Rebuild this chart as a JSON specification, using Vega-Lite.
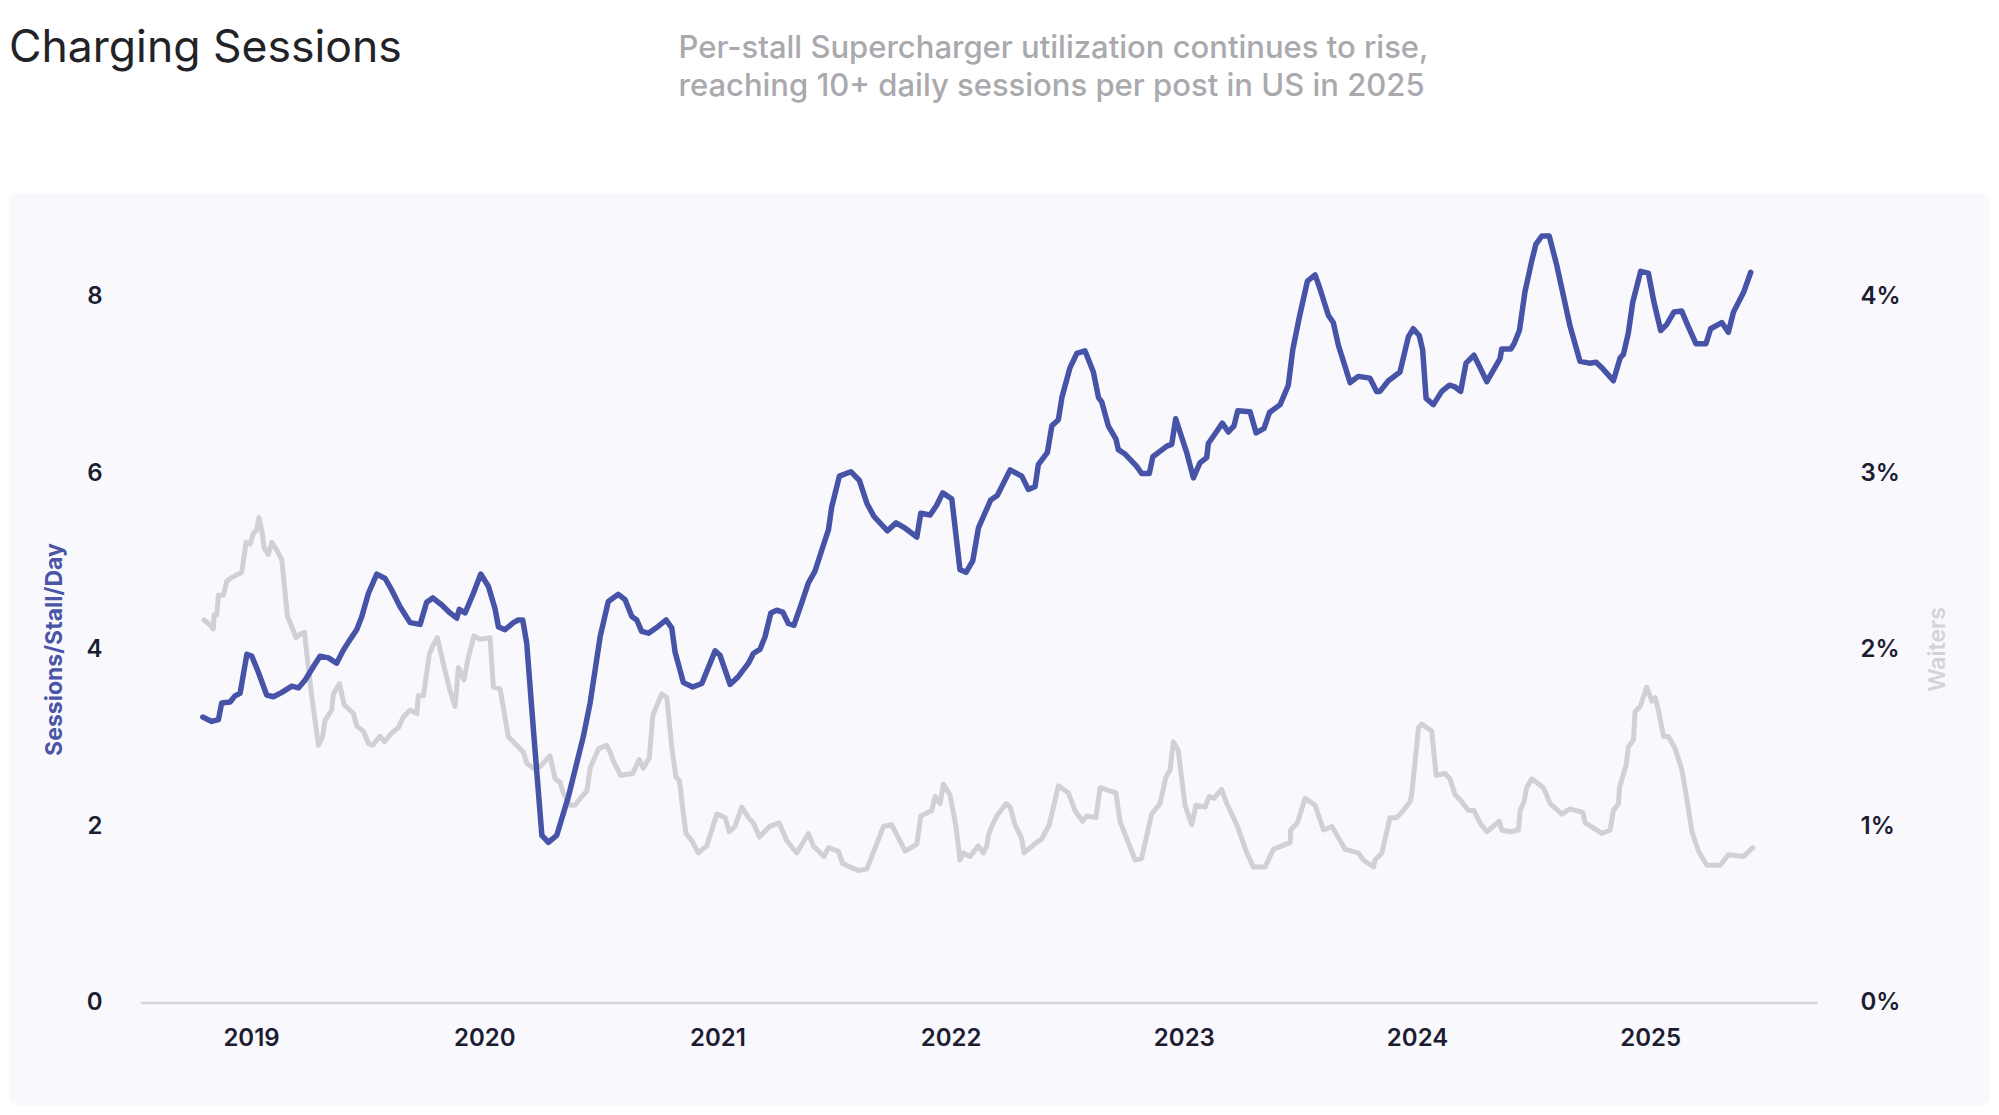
{
"$schema": "https://vega.github.io/schema/vega-lite/v6.json",
"width": 1981,
"height": 912,
"autosize": {"type": "none"},
"padding": {"left": 9, "top": 193, "right": 9, "bottom": 10},
"background": "#ffffff",
"config": {
  "font": "Inter",
  "view": {"fill": "#f9f9fd", "stroke": null, "cornerRadius": 8},
  "axis": {"grid": false, "ticks": false, "domain": false, "labelFont": "Inter", "titleFont": "Inter"}
},
"title": {"text": "Charging Sessions", "anchor": "start", "frame": "group", "fontSize": 44.5, "fontWeight": 400, "color": "#232327", "offset": -39, "font": "Inter"},
"datasets": {
"sessions": [
{"t":2018.793,"v":3.24},{"t":2018.831,"v":3.19},{"t":2018.860,"v":3.21},{"t":2018.874,"v":3.40},{"t":2018.910,"v":3.41},{"t":2018.931,"v":3.48},{"t":2018.953,"v":3.51},{"t":2018.982,"v":3.95},{"t":2019.003,"v":3.93},{"t":2019.031,"v":3.75},{"t":2019.067,"v":3.49},{"t":2019.096,"v":3.47},{"t":2019.132,"v":3.52},{"t":2019.175,"v":3.59},{"t":2019.203,"v":3.57},{"t":2019.232,"v":3.66},{"t":2019.267,"v":3.81},{"t":2019.296,"v":3.93},{"t":2019.332,"v":3.91},{"t":2019.367,"v":3.85},{"t":2019.396,"v":4.00},{"t":2019.425,"v":4.12},{"t":2019.453,"v":4.23},{"t":2019.475,"v":4.38},{"t":2019.503,"v":4.64},{"t":2019.539,"v":4.86},{"t":2019.575,"v":4.81},{"t":2019.603,"v":4.68},{"t":2019.639,"v":4.49},{"t":2019.682,"v":4.31},{"t":2019.725,"v":4.29},{"t":2019.753,"v":4.54},{"t":2019.779,"v":4.59},{"t":2019.818,"v":4.51},{"t":2019.853,"v":4.42},{"t":2019.882,"v":4.36},{"t":2019.893,"v":4.46},{"t":2019.918,"v":4.42},{"t":2019.953,"v":4.64},{"t":2019.985,"v":4.86},{"t":2020.018,"v":4.72},{"t":2020.046,"v":4.47},{"t":2020.061,"v":4.26},{"t":2020.089,"v":4.23},{"t":2020.125,"v":4.31},{"t":2020.146,"v":4.34},{"t":2020.165,"v":4.34},{"t":2020.182,"v":4.08},{"t":2020.211,"v":3.09},{"t":2020.247,"v":1.90},{"t":2020.275,"v":1.82},{"t":2020.311,"v":1.90},{"t":2020.361,"v":2.34},{"t":2020.425,"v":3.02},{"t":2020.454,"v":3.40},{"t":2020.497,"v":4.15},{"t":2020.532,"v":4.55},{"t":2020.575,"v":4.63},{"t":2020.604,"v":4.57},{"t":2020.633,"v":4.38},{"t":2020.654,"v":4.34},{"t":2020.675,"v":4.21},{"t":2020.704,"v":4.19},{"t":2020.747,"v":4.27},{"t":2020.780,"v":4.34},{"t":2020.804,"v":4.25},{"t":2020.818,"v":3.98},{"t":2020.854,"v":3.63},{"t":2020.894,"v":3.58},{"t":2020.933,"v":3.62},{"t":2020.990,"v":3.99},{"t":2021.011,"v":3.94},{"t":2021.054,"v":3.61},{"t":2021.090,"v":3.70},{"t":2021.133,"v":3.85},{"t":2021.154,"v":3.96},{"t":2021.183,"v":4.01},{"t":2021.204,"v":4.15},{"t":2021.229,"v":4.42},{"t":2021.254,"v":4.45},{"t":2021.280,"v":4.43},{"t":2021.304,"v":4.30},{"t":2021.328,"v":4.28},{"t":2021.361,"v":4.53},{"t":2021.390,"v":4.76},{"t":2021.418,"v":4.89},{"t":2021.452,"v":5.17},{"t":2021.476,"v":5.36},{"t":2021.490,"v":5.62},{"t":2021.523,"v":5.97},{"t":2021.572,"v":6.02},{"t":2021.609,"v":5.92},{"t":2021.641,"v":5.66},{"t":2021.672,"v":5.51},{"t":2021.729,"v":5.35},{"t":2021.766,"v":5.44},{"t":2021.805,"v":5.38},{"t":2021.855,"v":5.28},{"t":2021.872,"v":5.55},{"t":2021.912,"v":5.53},{"t":2021.940,"v":5.64},{"t":2021.966,"v":5.78},{"t":2022.005,"v":5.71},{"t":2022.040,"v":4.91},{"t":2022.066,"v":4.88},{"t":2022.095,"v":5.01},{"t":2022.119,"v":5.38},{"t":2022.140,"v":5.51},{"t":2022.172,"v":5.70},{"t":2022.200,"v":5.75},{"t":2022.255,"v":6.04},{"t":2022.305,"v":5.97},{"t":2022.333,"v":5.82},{"t":2022.362,"v":5.85},{"t":2022.376,"v":6.10},{"t":2022.415,"v":6.24},{"t":2022.434,"v":6.54},{"t":2022.462,"v":6.61},{"t":2022.477,"v":6.86},{"t":2022.512,"v":7.20},{"t":2022.541,"v":7.36},{"t":2022.576,"v":7.39},{"t":2022.612,"v":7.15},{"t":2022.634,"v":6.86},{"t":2022.648,"v":6.81},{"t":2022.676,"v":6.54},{"t":2022.709,"v":6.39},{"t":2022.719,"v":6.27},{"t":2022.748,"v":6.22},{"t":2022.798,"v":6.08},{"t":2022.819,"v":6.00},{"t":2022.852,"v":6.00},{"t":2022.867,"v":6.19},{"t":2022.927,"v":6.31},{"t":2022.948,"v":6.33},{"t":2022.965,"v":6.62},{"t":2023.012,"v":6.24},{"t":2023.041,"v":5.95},{"t":2023.069,"v":6.12},{"t":2023.098,"v":6.18},{"t":2023.105,"v":6.34},{"t":2023.134,"v":6.45},{"t":2023.165,"v":6.57},{"t":2023.191,"v":6.47},{"t":2023.215,"v":6.54},{"t":2023.231,"v":6.71},{"t":2023.284,"v":6.70},{"t":2023.310,"v":6.46},{"t":2023.344,"v":6.51},{"t":2023.367,"v":6.69},{"t":2023.413,"v":6.78},{"t":2023.448,"v":7.00},{"t":2023.467,"v":7.40},{"t":2023.496,"v":7.78},{"t":2023.530,"v":8.18},{"t":2023.563,"v":8.25},{"t":2023.584,"v":8.09},{"t":2023.620,"v":7.79},{"t":2023.641,"v":7.71},{"t":2023.663,"v":7.45},{"t":2023.713,"v":7.03},{"t":2023.748,"v":7.10},{"t":2023.798,"v":7.08},{"t":2023.827,"v":6.93},{"t":2023.841,"v":6.93},{"t":2023.877,"v":7.05},{"t":2023.927,"v":7.15},{"t":2023.963,"v":7.55},{"t":2023.984,"v":7.64},{"t":2024.010,"v":7.56},{"t":2024.024,"v":7.40},{"t":2024.039,"v":6.85},{"t":2024.070,"v":6.78},{"t":2024.106,"v":6.93},{"t":2024.139,"v":7.00},{"t":2024.163,"v":6.98},{"t":2024.187,"v":6.93},{"t":2024.210,"v":7.25},{"t":2024.244,"v":7.34},{"t":2024.270,"v":7.20},{"t":2024.299,"v":7.04},{"t":2024.356,"v":7.30},{"t":2024.363,"v":7.41},{"t":2024.402,"v":7.41},{"t":2024.416,"v":7.47},{"t":2024.439,"v":7.62},{"t":2024.463,"v":8.06},{"t":2024.492,"v":8.41},{"t":2024.510,"v":8.60},{"t":2024.535,"v":8.69},{"t":2024.567,"v":8.69},{"t":2024.599,"v":8.36},{"t":2024.628,"v":8.01},{"t":2024.656,"v":7.67},{"t":2024.699,"v":7.27},{"t":2024.739,"v":7.25},{"t":2024.768,"v":7.26},{"t":2024.799,"v":7.18},{"t":2024.842,"v":7.05},{"t":2024.871,"v":7.31},{"t":2024.885,"v":7.35},{"t":2024.906,"v":7.59},{"t":2024.925,"v":7.94},{"t":2024.959,"v":8.29},{"t":2024.992,"v":8.27},{"t":2025.016,"v":7.94},{"t":2025.045,"v":7.62},{"t":2025.071,"v":7.69},{"t":2025.102,"v":7.83},{"t":2025.135,"v":7.84},{"t":2025.159,"v":7.69},{"t":2025.196,"v":7.47},{"t":2025.239,"v":7.47},{"t":2025.259,"v":7.64},{"t":2025.307,"v":7.71},{"t":2025.335,"v":7.60},{"t":2025.357,"v":7.83},{"t":2025.400,"v":8.05},{"t":2025.431,"v":8.28}
],
"waiters": [
{"t":2018.798,"w":2.17},{"t":2018.817,"w":2.15},{"t":2018.838,"w":2.12},{"t":2018.842,"w":2.20},{"t":2018.853,"w":2.20},{"t":2018.860,"w":2.31},{"t":2018.881,"w":2.31},{"t":2018.896,"w":2.39},{"t":2018.917,"w":2.41},{"t":2018.960,"w":2.44},{"t":2018.979,"w":2.61},{"t":2018.996,"w":2.60},{"t":2019.010,"w":2.66},{"t":2019.024,"w":2.68},{"t":2019.034,"w":2.75},{"t":2019.046,"w":2.68},{"t":2019.056,"w":2.58},{"t":2019.074,"w":2.54},{"t":2019.089,"w":2.61},{"t":2019.113,"w":2.56},{"t":2019.132,"w":2.51},{"t":2019.156,"w":2.19},{"t":2019.175,"w":2.13},{"t":2019.193,"w":2.07},{"t":2019.210,"w":2.09},{"t":2019.229,"w":2.10},{"t":2019.239,"w":1.98},{"t":2019.260,"w":1.74},{"t":2019.289,"w":1.46},{"t":2019.307,"w":1.51},{"t":2019.317,"w":1.60},{"t":2019.346,"w":1.66},{"t":2019.353,"w":1.75},{"t":2019.379,"w":1.81},{"t":2019.399,"w":1.69},{"t":2019.439,"w":1.64},{"t":2019.453,"w":1.57},{"t":2019.482,"w":1.54},{"t":2019.503,"w":1.47},{"t":2019.522,"w":1.46},{"t":2019.553,"w":1.51},{"t":2019.572,"w":1.48},{"t":2019.603,"w":1.53},{"t":2019.632,"w":1.56},{"t":2019.653,"w":1.62},{"t":2019.682,"w":1.66},{"t":2019.711,"w":1.64},{"t":2019.717,"w":1.74},{"t":2019.739,"w":1.74},{"t":2019.765,"w":1.98},{"t":2019.782,"w":2.03},{"t":2019.799,"w":2.07},{"t":2019.825,"w":1.92},{"t":2019.853,"w":1.77},{"t":2019.875,"w":1.68},{"t":2019.889,"w":1.90},{"t":2019.913,"w":1.83},{"t":2019.932,"w":1.96},{"t":2019.956,"w":2.08},{"t":2019.982,"w":2.06},{"t":2020.025,"w":2.07},{"t":2020.039,"w":1.79},{"t":2020.068,"w":1.78},{"t":2020.103,"w":1.51},{"t":2020.132,"w":1.47},{"t":2020.168,"w":1.42},{"t":2020.182,"w":1.36},{"t":2020.211,"w":1.33},{"t":2020.239,"w":1.34},{"t":2020.282,"w":1.40},{"t":2020.304,"w":1.27},{"t":2020.325,"w":1.25},{"t":2020.339,"w":1.19},{"t":2020.368,"w":1.12},{"t":2020.389,"w":1.12},{"t":2020.418,"w":1.17},{"t":2020.440,"w":1.20},{"t":2020.454,"w":1.33},{"t":2020.490,"w":1.44},{"t":2020.525,"w":1.46},{"t":2020.540,"w":1.42},{"t":2020.554,"w":1.37},{"t":2020.585,"w":1.29},{"t":2020.637,"w":1.30},{"t":2020.665,"w":1.38},{"t":2020.682,"w":1.33},{"t":2020.708,"w":1.39},{"t":2020.723,"w":1.63},{"t":2020.761,"w":1.75},{"t":2020.783,"w":1.73},{"t":2020.804,"w":1.45},{"t":2020.822,"w":1.28},{"t":2020.837,"w":1.26},{"t":2020.854,"w":1.07},{"t":2020.865,"w":0.96},{"t":2020.890,"w":0.92},{"t":2020.918,"w":0.85},{"t":2020.954,"w":0.89},{"t":2020.997,"w":1.07},{"t":2021.033,"w":1.05},{"t":2021.051,"w":0.97},{"t":2021.075,"w":1.00},{"t":2021.104,"w":1.11},{"t":2021.133,"w":1.05},{"t":2021.154,"w":1.02},{"t":2021.180,"w":0.94},{"t":2021.223,"w":1.00},{"t":2021.265,"w":1.02},{"t":2021.297,"w":0.92},{"t":2021.340,"w":0.85},{"t":2021.390,"w":0.96},{"t":2021.411,"w":0.89},{"t":2021.457,"w":0.83},{"t":2021.476,"w":0.88},{"t":2021.518,"w":0.86},{"t":2021.537,"w":0.79},{"t":2021.604,"w":0.75},{"t":2021.641,"w":0.76},{"t":2021.712,"w":1.00},{"t":2021.747,"w":1.01},{"t":2021.805,"w":0.86},{"t":2021.855,"w":0.90},{"t":2021.872,"w":1.06},{"t":2021.919,"w":1.09},{"t":2021.933,"w":1.17},{"t":2021.955,"w":1.13},{"t":2021.969,"w":1.24},{"t":2021.997,"w":1.18},{"t":2022.023,"w":1.00},{"t":2022.040,"w":0.81},{"t":2022.055,"w":0.85},{"t":2022.083,"w":0.83},{"t":2022.119,"w":0.89},{"t":2022.140,"w":0.85},{"t":2022.155,"w":0.89},{"t":2022.162,"w":0.95},{"t":2022.176,"w":1.00},{"t":2022.198,"w":1.06},{"t":2022.238,"w":1.13},{"t":2022.255,"w":1.11},{"t":2022.276,"w":1.01},{"t":2022.305,"w":0.93},{"t":2022.315,"w":0.85},{"t":2022.369,"w":0.91},{"t":2022.391,"w":0.93},{"t":2022.423,"w":1.01},{"t":2022.462,"w":1.23},{"t":2022.505,"w":1.19},{"t":2022.533,"w":1.09},{"t":2022.566,"w":1.03},{"t":2022.583,"w":1.06},{"t":2022.623,"w":1.05},{"t":2022.641,"w":1.22},{"t":2022.709,"w":1.19},{"t":2022.726,"w":1.03},{"t":2022.791,"w":0.81},{"t":2022.819,"w":0.82},{"t":2022.862,"w":1.07},{"t":2022.898,"w":1.13},{"t":2022.923,"w":1.28},{"t":2022.941,"w":1.32},{"t":2022.955,"w":1.48},{"t":2022.976,"w":1.43},{"t":2023.005,"w":1.12},{"t":2023.034,"w":1.01},{"t":2023.052,"w":1.12},{"t":2023.091,"w":1.11},{"t":2023.109,"w":1.17},{"t":2023.129,"w":1.16},{"t":2023.162,"w":1.21},{"t":2023.184,"w":1.13},{"t":2023.227,"w":1.01},{"t":2023.270,"w":0.85},{"t":2023.298,"w":0.77},{"t":2023.348,"w":0.77},{"t":2023.384,"w":0.87},{"t":2023.456,"w":0.91},{"t":2023.458,"w":0.98},{"t":2023.487,"w":1.02},{"t":2023.520,"w":1.16},{"t":2023.563,"w":1.12},{"t":2023.599,"w":0.98},{"t":2023.635,"w":1.00},{"t":2023.670,"w":0.92},{"t":2023.692,"w":0.87},{"t":2023.748,"w":0.85},{"t":2023.770,"w":0.81},{"t":2023.813,"w":0.77},{"t":2023.820,"w":0.81},{"t":2023.849,"w":0.85},{"t":2023.884,"w":1.05},{"t":2023.913,"w":1.05},{"t":2023.934,"w":1.08},{"t":2023.970,"w":1.14},{"t":2023.977,"w":1.18},{"t":2023.991,"w":1.36},{"t":2024.006,"w":1.56},{"t":2024.020,"w":1.58},{"t":2024.063,"w":1.54},{"t":2024.082,"w":1.29},{"t":2024.120,"w":1.30},{"t":2024.141,"w":1.27},{"t":2024.163,"w":1.18},{"t":2024.192,"w":1.14},{"t":2024.220,"w":1.09},{"t":2024.244,"w":1.09},{"t":2024.270,"w":1.02},{"t":2024.299,"w":0.97},{"t":2024.353,"w":1.03},{"t":2024.363,"w":0.98},{"t":2024.399,"w":0.97},{"t":2024.435,"w":0.98},{"t":2024.442,"w":1.09},{"t":2024.459,"w":1.14},{"t":2024.470,"w":1.22},{"t":2024.492,"w":1.27},{"t":2024.542,"w":1.22},{"t":2024.571,"w":1.13},{"t":2024.621,"w":1.07},{"t":2024.656,"w":1.10},{"t":2024.711,"w":1.08},{"t":2024.721,"w":1.02},{"t":2024.771,"w":0.98},{"t":2024.792,"w":0.96},{"t":2024.828,"w":0.98},{"t":2024.842,"w":1.09},{"t":2024.864,"w":1.13},{"t":2024.868,"w":1.22},{"t":2024.897,"w":1.35},{"t":2024.906,"w":1.45},{"t":2024.928,"w":1.49},{"t":2024.935,"w":1.65},{"t":2024.957,"w":1.68},{"t":2024.985,"w":1.79},{"t":2025.007,"w":1.71},{"t":2025.021,"w":1.73},{"t":2025.035,"w":1.66},{"t":2025.057,"w":1.51},{"t":2025.078,"w":1.51},{"t":2025.107,"w":1.44},{"t":2025.136,"w":1.32},{"t":2025.154,"w":1.18},{"t":2025.179,"w":0.97},{"t":2025.207,"w":0.86},{"t":2025.243,"w":0.78},{"t":2025.300,"w":0.78},{"t":2025.335,"w":0.84},{"t":2025.400,"w":0.83},{"t":2025.440,"w":0.88}
]
},
"layer": [
  {
    "data": {"values": [{}]},
    "mark": {"type": "rule", "color": "#d6d6db", "strokeWidth": 2.5},
    "encoding": {
      "x": {"datum": 2018.528, "type": "quantitative", "scale": {"domain": [2017.962, 2026.457], "nice": false, "zero": false}, "axis": null},
      "x2": {"datum": 2025.716},
      "y": {"datum": 0, "type": "quantitative", "scale": {"domain": [-1.156, 9.178], "nice": false, "zero": false}, "axis": null}
    }
  },
  {
    "data": {"name": "waiters"},
    "mark": {"type": "line", "color": "#d1d1d5", "strokeWidth": 5, "strokeJoin": "round", "strokeCap": "round"},
    "encoding": {
      "x": {"field": "t", "type": "quantitative", "scale": {"domain": [2017.962, 2026.457], "nice": false, "zero": false},
        "axis": {"orient": "top", "labels": false, "ticks": false, "domain": false, "grid": false,
          "title": ["Per-stall Supercharger utilization continues to rise,", "reaching 10+ daily sessions per post in US in 2025"],
          "titleX": 669, "titleY": -160, "titleAlign": "left", "titleAnchor": "start", "titleBaseline": "top",
          "titleFontSize": 31, "titleFontWeight": 500, "titleColor": "#a9a9ae", "titleLineHeight": 38.5}},
      "y": {"field": "w", "type": "quantitative", "scale": {"domain": [-0.578, 4.589], "nice": false, "zero": false},
        "axis": {"orient": "right", "offset": -164, "values": [0, 1, 2, 3, 4], "labelExpr": "datum.value + '%'",
          "labelPadding": 34, "labelFontSize": 24, "labelFontWeight": 600, "labelColor": "#1c1d30",
          "title": "Waiters", "titleAngle": 270, "titleColor": "#d3d3d8", "titleFontSize": 23, "titleFontWeight": 600, "titlePadding": 49}}
    }
  },
  {
    "data": {"name": "sessions"},
    "mark": {"type": "line", "color": "#4753a7", "strokeWidth": 5.5, "strokeJoin": "round", "strokeCap": "round"},
    "encoding": {
      "x": {"field": "t", "type": "quantitative", "scale": {"domain": [2017.962, 2026.457], "nice": false, "zero": false},
        "axis": {"orient": "bottom", "offset": -102, "values": [2019, 2020, 2021, 2022, 2023, 2024, 2025], "format": "d",
          "labelPadding": 23, "labelFontSize": 24, "labelFontWeight": 600, "labelColor": "#1c1d30", "title": null}},
      "y": {"field": "v", "type": "quantitative", "scale": {"domain": [-1.156, 9.178], "nice": false, "zero": false},
        "axis": {"orient": "left", "offset": -132, "values": [0, 2, 4, 6, 8], "labelPadding": 39, "labelFontSize": 24,
          "labelFontWeight": 600, "labelColor": "#1c1d30",
          "title": "Sessions/Stall/Day", "titleColor": "#4a55a8", "titleFontSize": 23, "titleFontWeight": 700, "titlePadding": 20}}
    }
  }
],
"resolve": {"scale": {"y": "independent"}, "axis": {"x": "independent", "y": "independent"}}
}
